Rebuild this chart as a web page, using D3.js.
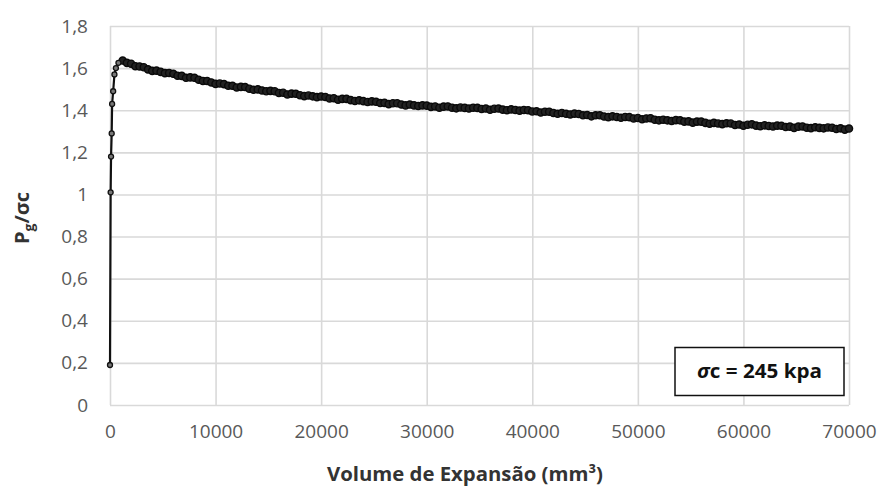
<!DOCTYPE html>
<html>
<head>
<meta charset="utf-8">
<script src="https://cdn.jsdelivr.net/npm/d3@7/dist/d3.min.js"></script>
<style>
  html, body { margin: 0; padding: 0; background: #fff; }
  svg { display: block; }
</style>
</head>
<body>
<svg id="chart" width="883" height="488"></svg>
<script>
// Expansion volume (mm³) and normalised pressure Pg/σc, σc = 245 kPa
const riseVolume = [0, 60, 100, 160, 200, 300, 420, 560, 800];
const riseRatio  = [0.19, 1.01, 1.18, 1.29, 1.43, 1.49, 1.57, 1.60, 1.625];

const decayVolume = [
  1200, 1600, 2000, 2400, 2800, 3200, 3600, 4000, 4400, 4800, 5200, 5600,
  6000, 6400, 6800, 7200, 7600, 8000, 8400, 8800, 9200, 9600, 10000, 10400,
  10800, 11200, 11600, 12000, 12400, 12800, 13200, 13600, 14000, 14400, 14800, 15200,
  15600, 16000, 16400, 16800, 17200, 17600, 18000, 18400, 18800, 19200, 19600, 20000,
  20400, 20800, 21200, 21600, 22000, 22400, 22800, 23200, 23600, 24000, 24400, 24800,
  25200, 25600, 26000, 26400, 26800, 27200, 27600, 28000, 28400, 28800, 29200, 29600,
  30000, 30400, 30800, 31200, 31600, 32000, 32400, 32800, 33200, 33600, 34000, 34400,
  34800, 35200, 35600, 36000, 36400, 36800, 37200, 37600, 38000, 38400, 38800, 39200,
  39600, 40000, 40400, 40800, 41200, 41600, 42000, 42400, 42800, 43200, 43600, 44000,
  44400, 44800, 45200, 45600, 46000, 46400, 46800, 47200, 47600, 48000, 48400, 48800,
  49200, 49600, 50000, 50400, 50800, 51200, 51600, 52000, 52400, 52800, 53200, 53600,
  54000, 54400, 54800, 55200, 55600, 56000, 56400, 56800, 57200, 57600, 58000, 58400,
  58800, 59200, 59600, 60000, 60400, 60800, 61200, 61600, 62000, 62400, 62800, 63200,
  63600, 64000, 64400, 64800, 65200, 65600, 66000, 66400, 66800, 67200, 67600, 68000,
  68400, 68800, 69200, 69600, 70000
];
const decayRatio = [
  1.636, 1.625, 1.621, 1.609, 1.608, 1.604, 1.594, 1.587, 1.588, 1.582, 1.576, 1.577,
  1.573, 1.564, 1.563, 1.554, 1.556, 1.554, 1.545, 1.539, 1.539, 1.532, 1.525, 1.527,
  1.524, 1.516, 1.516, 1.508, 1.511, 1.510, 1.502, 1.497, 1.499, 1.494, 1.490, 1.492,
  1.490, 1.482, 1.483, 1.475, 1.479, 1.478, 1.471, 1.467, 1.470, 1.466, 1.462, 1.465,
  1.463, 1.456, 1.457, 1.450, 1.454, 1.454, 1.448, 1.444, 1.447, 1.443, 1.439, 1.442,
  1.440, 1.434, 1.435, 1.429, 1.433, 1.433, 1.427, 1.423, 1.427, 1.423, 1.420, 1.423,
  1.422, 1.416, 1.418, 1.412, 1.417, 1.418, 1.412, 1.409, 1.413, 1.411, 1.408, 1.412,
  1.411, 1.406, 1.408, 1.402, 1.407, 1.408, 1.403, 1.400, 1.404, 1.401, 1.398, 1.401,
  1.400, 1.394, 1.395, 1.389, 1.393, 1.393, 1.387, 1.383, 1.387, 1.383, 1.380, 1.384,
  1.382, 1.376, 1.377, 1.371, 1.376, 1.376, 1.370, 1.367, 1.371, 1.368, 1.364, 1.368,
  1.367, 1.361, 1.363, 1.357, 1.361, 1.362, 1.355, 1.352, 1.355, 1.352, 1.349, 1.353,
  1.352, 1.346, 1.347, 1.341, 1.346, 1.346, 1.340, 1.336, 1.340, 1.337, 1.334, 1.338,
  1.337, 1.330, 1.332, 1.326, 1.331, 1.333, 1.327, 1.324, 1.328, 1.325, 1.323, 1.327,
  1.326, 1.320, 1.322, 1.316, 1.322, 1.323, 1.317, 1.315, 1.319, 1.316, 1.314, 1.318,
  1.317, 1.311, 1.314, 1.308, 1.313
];

const xTicks = [0, 10000, 20000, 30000, 40000, 50000, 60000, 70000];
const yTicks = [0, 0.2, 0.4, 0.6, 0.8, 1, 1.2, 1.4, 1.6, 1.8];
const xTitle = "Volume de Expansão (mm³)";
const legendText = { sym: "σ", rest: "c = 245 kpa" };

const svg = d3.select("#chart");
const margin = { left: 110, right: 34, top: 26, bottom: 83 };
const W = 883, H = 488;

const x = d3.scaleLinear().domain([0, 70000]).range([margin.left, W - margin.right]);
const y = d3.scaleLinear().domain([0, 1.8]).range([H - margin.bottom, margin.top]);

const tickFont = "'Open Sans', 'Noto Sans', sans-serif";
const gridColor = "#d9d9d9";
const fmtComma = d => String(d).replace(".", ",");

// horizontal gridlines + y labels
const yAxis = d3.axisLeft(y).tickValues(yTicks).tickFormat(fmtComma)
  .tickSize(-(x.range()[1] - x.range()[0])).tickPadding(22);
const gy = svg.append("g").attr("transform", `translate(${margin.left},0)`).call(yAxis);
gy.select(".domain").remove();
gy.selectAll(".tick line").attr("stroke", gridColor).attr("stroke-width", 1.6);
gy.selectAll(".tick text").attr("fill", "#595959")
  .style("font-family", tickFont).style("font-size", "19px");

// vertical gridlines + x labels
const xAxis = d3.axisBottom(x).tickValues(xTicks).tickFormat(d3.format("d"))
  .tickSize(-(y.range()[0] - y.range()[1])).tickPadding(20);
const gx = svg.append("g").attr("transform", `translate(0,${y(0)})`).call(xAxis);
gx.select(".domain").remove();
gx.selectAll(".tick line").attr("stroke", gridColor).attr("stroke-width", 1.6);
gx.selectAll(".tick text").attr("fill", "#595959")
  .style("font-family", tickFont).style("font-size", "19px");

// series
const risePts = riseVolume.map((v, i) => [v, riseRatio[i]]);
const decayPts = decayVolume.map((v, i) => [v, decayRatio[i]]);
const allPts = risePts.concat(decayPts);

const line = d3.line().x(d => x(d[0])).y(d => y(d[1]));
svg.append("path").datum(allPts)
  .attr("d", line).attr("fill", "none")
  .attr("stroke", "#111").attr("stroke-width", 2.2).attr("stroke-linejoin", "round");

// thick band of overlapping markers along the decay
svg.append("g").selectAll("circle").data(decayPts).join("circle")
  .attr("cx", d => x(d[0])).attr("cy", d => y(d[1])).attr("r", 3.6)
  .attr("fill", "#222").attr("stroke", "#0a0a0a").attr("stroke-width", 1.4);

svg.append("g").selectAll("circle").data(risePts).join("circle")
  .attr("cx", d => x(d[0])).attr("cy", d => y(d[1])).attr("r", 2.5)
  .attr("fill", "#777").attr("stroke", "#111").attr("stroke-width", 1.3);

// legend box
const lg = svg.append("g");
lg.append("rect").attr("x", 675).attr("y", 347.5).attr("width", 169).attr("height", 48)
  .attr("fill", "#fff").attr("stroke", "#111").attr("stroke-width", 1.5);
const lt = lg.append("text").attr("x", 759.5).attr("y", 378).attr("text-anchor", "middle")
  .style("font-family", tickFont).style("font-size", "19px").style("font-weight", "bold")
  .attr("fill", "#111");
lt.append("tspan").style("font-style", "italic").text(legendText.sym);
lt.append("tspan").text(legendText.rest);
lt.attr("textLength", 125).attr("lengthAdjust", "spacingAndGlyphs");

// axis titles
svg.append("text").attr("x", 465).attr("y", 481).attr("text-anchor", "middle")
  .style("font-family", tickFont).style("font-size", "20px").style("font-weight", "bold")
  .attr("fill", "#333").attr("textLength", 276).attr("lengthAdjust", "spacingAndGlyphs")
  .text(xTitle);

const yt = svg.append("text")
  .attr("transform", `translate(29,${218}) rotate(-90)`).attr("text-anchor", "middle")
  .style("font-family", tickFont).style("font-size", "20px").style("font-weight", "bold")
  .attr("fill", "#333");
yt.append("tspan").text("P");
yt.append("tspan").attr("dy", 5).style("font-size", "14px").text("g");
yt.append("tspan").attr("dy", -5).text("/σc");
</script>
</body>
</html>
